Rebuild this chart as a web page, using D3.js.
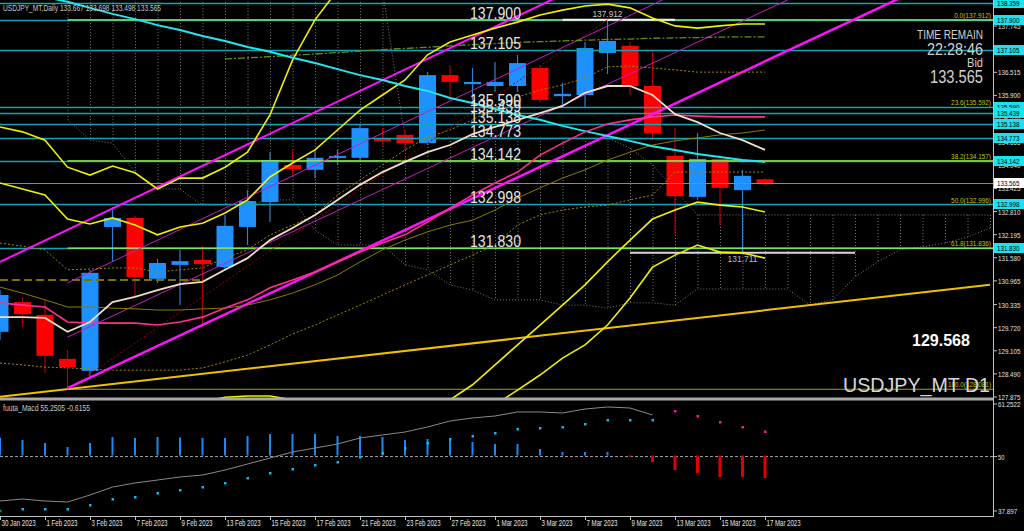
<!DOCTYPE html>
<html><head><meta charset="utf-8">
<script src="https://cdn.jsdelivr.net/npm/d3@7"></script>
<style>html,body{margin:0;padding:0;background:#000;overflow:hidden}</style>
</head><body><svg id="c" width="1024" height="531"></svg>
<script>
// ---------------- DATA ----------------
const dates=["30 Jan 2023","31 Jan 2023","1 Feb 2023","2 Feb 2023","3 Feb 2023","6 Feb 2023","7 Feb 2023","8 Feb 2023","9 Feb 2023","10 Feb 2023","13 Feb 2023","14 Feb 2023","15 Feb 2023","16 Feb 2023","17 Feb 2023","20 Feb 2023","21 Feb 2023","22 Feb 2023","23 Feb 2023","24 Feb 2023","27 Feb 2023","28 Feb 2023","1 Mar 2023","2 Mar 2023","3 Mar 2023","6 Mar 2023","7 Mar 2023","8 Mar 2023","9 Mar 2023","10 Mar 2023","13 Mar 2023","14 Mar 2023","15 Mar 2023","16 Mar 2023","17 Mar 2023"];
const openP=[129.61,130.40,130.06,128.89,128.57,132.40,132.64,131.02,131.39,131.52,131.33,132.40,133.06,134.05,133.92,134.24,134.24,134.77,134.85,134.63,136.44,136.20,136.15,136.15,136.63,135.88,135.91,137.03,137.22,136.15,134.29,133.20,134.21,133.38,133.667];
const highP=[130.72,130.54,130.46,129.13,131.25,132.93,132.69,131.55,131.79,131.89,132.72,133.38,134.39,134.45,134.45,134.45,135.11,135.03,134.98,136.52,136.71,136.63,136.79,136.98,136.71,136.23,137.32,137.912,137.32,137.11,135.03,134.90,134.31,133.92,133.698];
const lowP=[129.39,129.74,128.51,128.081,128.38,131.47,130.54,130.91,130.32,129.79,131.25,131.92,132.53,133.78,133.70,134.05,134.18,134.58,134.45,134.58,135.78,135.78,135.99,135.99,135.72,135.59,135.57,136.47,135.91,134.71,132.19,133.12,132.45,131.711,133.498];
const closeP=[130.59,130.08,128.97,128.67,131.18,132.64,131.07,131.44,131.49,131.41,132.43,133.09,134.18,133.94,134.24,134.29,135.03,134.69,134.63,136.44,136.26,136.26,136.26,136.76,135.78,135.94,137.16,137.35,136.15,134.90,133.22,134.21,133.44,133.76,133.565];

// moving averages / bands (price per bar, from bar 0)
const maCream=[130.00,130.00,129.98,129.61,129.87,130.40,130.54,130.72,130.88,130.94,131.26,131.57,132.05,132.37,132.72,133.12,133.52,133.86,134.13,134.39,134.58,134.87,135.06,135.25,135.43,135.62,135.97,136.15,136.15,135.91,135.40,135.19,134.90,134.71,134.45];
const maPink=[130.38,130.32,130.27,129.87,129.84,129.84,129.84,129.79,129.87,130.00,130.24,130.46,130.78,130.99,131.20,131.47,131.73,131.97,132.19,132.53,132.90,133.25,133.57,133.86,134.31,134.63,134.93,135.14,135.25,135.33,135.38,135.35,135.33,135.33,135.33];
const maCyan=[138.81,138.65,138.52,138.39,138.23,138.07,137.93,137.77,137.64,137.48,137.35,137.19,137.06,136.90,136.76,136.60,136.44,136.31,136.15,136.02,135.83,135.70,135.54,135.38,135.25,135.09,134.95,134.82,134.69,134.55,134.45,134.34,134.26,134.18,134.13];
const bandUpper3=[135.06,134.93,134.71,133.99,133.78,134.02,133.84,133.41,133.70,133.70,133.99,134.39,135.38,136.84,137.91,138.70];
const bandUpper2=[133.57,133.41,133.25,132.61,132.48,132.64,132.45,132.19,132.40,132.50,132.77,133.12,133.73,134.10,134.45,134.98,135.51,135.91,136.31,136.98,137.32,137.51,137.69,137.85,138.04,138.17,138.28,138.33,138.23,137.96,137.75,137.69,137.75,137.80,137.80];
const bandLower2=[127.26,127.26,127.30,127.35,127.40,127.45,127.50,127.55,127.60,127.74,127.87,127.90,127.90,127.80,127.66,127.53,127.47,127.47,127.53,127.66,127.80,128.20,128.73,129.26,129.79,130.32,130.86,131.47,132.05,132.61,132.85,133.06,132.98,132.93,132.80];
const bandLower3=[null,null,null,null,null,null,null,null,null,null,null,null,null,null,null,null,null,null,null,null,127.00,127.26,127.66,128.06,128.46,128.91,129.26,129.79,130.51,131.33,131.65,131.92,131.73,131.71,131.57];
const bandMid=[130.80,130.64,130.46,130.27,130.27,130.24,130.22,130.19,130.19,130.22,130.24,130.32,130.46,130.64,130.86,131.12,131.47,131.79,132.05,132.27,132.45,132.58,132.85,133.17,133.44,133.70,133.92,134.18,134.39,134.58,134.69,134.77,134.85,134.90,134.98];
const dotUpper=[131.97,131.89,131.79,131.26,131.28,131.31,131.31,131.20,131.26,131.31,131.57,131.79,132.19,132.45,132.72,133.25,133.65,134.05,134.45,134.79,134.98,135.25,135.57,135.86,136.04,136.18,136.36,136.66,136.68,136.63,136.58,136.52,136.52,136.52,136.52];
const dotLower=[128.78,128.73,128.67,128.65,128.62,128.59,128.59,128.59,128.59,128.65,128.81,128.99,129.26,129.55,129.79,130.06,130.32,130.59,130.86,131.12,131.39,131.65,131.92,132.45,132.72,132.85,132.93,132.98,133.12,133.25,133.86,133.86,133.86,133.86,133.86];
const dashDotStart=10;
const dashDotLine=[136.87,136.90,136.93,136.97,137.00,137.04,137.08,137.12,137.15,137.18,137.22,137.25,137.28,137.31,137.33,137.35,137.37,137.39,137.40,137.42,137.43,137.44,137.45,137.46,137.46];
const oliveDashLevel=[0,9,130.99];

// dotted cloud (bars 3..44)
const cloudStart=3;
const cloudTop=[138.70,138.70,138.70,138.70,138.70,138.70,138.70,138.70,138.70,138.70,138.70,138.70,138.70,138.70,138.70,134.77,134.77,134.77,134.77,134.77,134.77,134.77,134.77,134.77,134.77,134.50,134.05,133.38,132.72,132.72,132.72,132.72,132.72,132.72,132.72,132.72,132.72,132.72,132.72,132.72,132.72,132.72];
const cloudBottom=[135.25,134.71,134.63,133.86,133.41,133.41,132.98,132.98,132.98,133.12,133.12,132.32,131.92,131.92,131.92,131.39,131.26,130.86,130.72,130.46,130.46,130.46,130.32,130.32,130.24,130.38,130.38,130.32,130.75,130.75,130.75,130.75,130.75,130.32,130.46,131.07,131.47,131.79,131.87,131.97,132.13,132.37];

// horizontal levels
const hLevels=[138.359,137.900,137.105,135.590,135.439,135.138,134.773,134.142,132.998,131.830];
const hLabels=["137.900","137.105","135.590","135.439","135.138","134.773","134.142","132.998","131.830"];
const bid=133.565;
const fibLevels=[137.912,135.592,134.157,132.996,131.836,128.081];
const fibNames=["0.0","23.6","38.2","50.0","61.8","100.0"];
const fibStart=3;
const highMark=[25,30,137.912], lowMark=[28,38,131.711];

// trend lines [i1,p1,i2,p2]
const trendGold=[0,127.88,44,130.86];
const chanThickLow=[3,128.11,40,138.49];
const chanThickUp=[0,131.47,25,138.58];
const chanThinA=[3,130.91,30,138.60];
const chanThinB=[3,129.47,35,138.44];
const fibBase=[3,128.081,27,137.912];

// price axis
const priceTicks=["138.359","137.745","137.130","136.515","135.900","135.270","134.655","134.040","133.425","132.810","132.195","131.580","130.965","130.335","129.720","129.105","128.490","127.875"];

// oscillator
const histVals=[53.89,53.39,52.74,51.87,52.74,54.05,53.83,54.05,53.95,53.83,53.83,54.27,54.70,54.70,54.70,54.27,54.27,54.05,53.39,53.61,53.83,52.96,52.52,52.52,51.43,50.77,50.77,50.77,49.75,48.59,46.84,46.19,45.32,45.32,45.10];
const macdLine=[40.08,40.51,40.08,39.86,41.39,43.13,44.01,44.66,45.32,45.75,46.84,48.15,49.46,50.77,51.65,52.52,53.83,54.49,55.14,56.23,57.54,58.20,58.63,59.51,59.51,59.29,60.16,60.60,60.38,58.85];
const dotVals=[37.95,38.33,38.33,38.33,39.20,40.51,40.95,41.82,42.48,43.13,44.01,45.10,46.19,47.06,47.94,48.59,49.68,50.56,51.65,52.74,53.61,54.27,54.92,55.80,56.01,56.23,56.89,57.76,57.76,57.76,59.72,58.63,57.32,56.23,55.2505];
const oscTicks=["61.2522","50","37.897"];

// ---------------- DRAW ----------------
const NF="'Liberation Sans',Arial,sans-serif";
const svg=d3.select("#c");
svg.append("rect").attr("width",1024).attr("height",531).attr("fill","#000");
const defs=svg.append("defs");
defs.append("clipPath").attr("id","cm").append("rect").attr("x",0).attr("y",0).attr("width",993).attr("height",398);
defs.append("clipPath").attr("id","cd").append("rect").attr("x",0).attr("y",401).attr("width",993).attr("height",115);

const x=d3.scaleLinear().domain([0,44]).range([0,990]);
const y=d3.scaleLinear().domain([127.875,138.359]).range([397,3]);
const ym=d3.scaleLinear().domain([37.897,61.2522]).range([511,404]);

const gm=svg.append("g").attr("clip-path","url(#cm)");

function txt(g,t,xx,yy,size,color,w,anchor){
  const s=g.append("text").attr("x",xx).attr("y",yy).attr("fill",color).attr("font-family",NF).attr("font-size",size).text(t);
  if(anchor)s.attr("text-anchor",anchor);
  if(w)s.attr("textLength",w).attr("lengthAdjust","spacingAndGlyphs");
  return s;
}
function series(g,vals,start,color,w,dash,scale){
  const sc=scale||y;
  const ln=d3.line().defined(d=>d!=null).x((d,i)=>x(i+start)).y(d=>sc(d));
  const p=g.append("path").datum(vals).attr("d",ln).attr("fill","none").attr("stroke",color).attr("stroke-width",w);
  if(dash)p.attr("stroke-dasharray",dash);
  return p;
}
function seg(g,t,color,w,dash){
  const p=g.append("line").attr("x1",x(t[0])).attr("y1",y(t[1])).attr("x2",x(t[2])).attr("y2",y(t[3]))
   .attr("stroke",color).attr("stroke-width",w);
  if(dash)p.attr("stroke-dasharray",dash);
}

// cloud
cloudTop.forEach((t,k)=>{
  gm.append("line").attr("x1",x(k+cloudStart)+0.5).attr("x2",x(k+cloudStart)+0.5)
    .attr("y1",y(t)).attr("y2",y(cloudBottom[k])).attr("stroke","#7c7c7c").attr("stroke-width",1).attr("stroke-dasharray","1,2");
});
series(gm,cloudTop,cloudStart,"#7c7c7c",1,"1,2");
series(gm,cloudBottom,cloudStart,"#7c7c7c",1,"1,2");

// candles
const cg=gm.append("g");
dates.forEach((d,i)=>{
  const up=closeP[i]>=openP[i];
  const cx=x(i);
  cg.append("line").attr("x1",cx).attr("x2",cx).attr("y1",y(highP[i])).attr("y2",y(lowP[i]))
    .attr("stroke",up?"#2f7fd0":"#b00000").attr("stroke-width",1.2);
  const yt=y(Math.max(openP[i],closeP[i])), yb=y(Math.min(openP[i],closeP[i]));
  cg.append("rect").attr("x",cx-8.5).attr("width",17).attr("y",yt).attr("height",Math.max(2,yb-yt))
    .attr("fill",up?"#1e90ff":"#ff0000");
});

// horizontal levels
hLevels.forEach(v=>{
  gm.append("line").attr("x1",0).attr("x2",993).attr("y1",Math.round(y(v))+0.5).attr("y2",Math.round(y(v))+0.5)
    .attr("stroke","#13a3b5").attr("stroke-width",1.3);
});
gm.append("line").attr("x1",0).attr("x2",993).attr("y1",Math.round(y(bid))+0.5).attr("y2",Math.round(y(bid))+0.5)
  .attr("stroke","#8a8a8a").attr("stroke-width",1);
[0,2,4].forEach(k=>{
  gm.append("line").attr("x1",x(fibStart)).attr("x2",993).attr("y1",y(fibLevels[k])).attr("y2",y(fibLevels[k]))
    .attr("stroke","#a6f24a").attr("stroke-width",1.3);
});
gm.append("line").attr("x1",x(fibStart)).attr("x2",993).attr("y1",y(fibLevels[5])).attr("y2",y(fibLevels[5]))
  .attr("stroke","#a8a000").attr("stroke-width",1);
gm.append("line").attr("x1",x(oliveDashLevel[0])).attr("x2",x(oliveDashLevel[1])).attr("y1",y(oliveDashLevel[2])).attr("y2",y(oliveDashLevel[2]))
  .attr("stroke","#7a7000").attr("stroke-width",2).attr("stroke-dasharray","8,4");
gm.append("line").attr("x1",x(highMark[0])).attr("x2",x(highMark[1])).attr("y1",y(highMark[2])).attr("y2",y(highMark[2])).attr("stroke","#f0f0f0").attr("stroke-width",2);
gm.append("line").attr("x1",x(lowMark[0])).attr("x2",x(lowMark[1])).attr("y1",y(lowMark[2])).attr("y2",y(lowMark[2])).attr("stroke","#d8d8d8").attr("stroke-width",2);

// trend lines
seg(gm,trendGold,"#f0c000",2);
seg(gm,fibBase,"#a00000",1,"2,2");
seg(gm,chanThinA,"#c020c0",1);
seg(gm,chanThinB,"#c020c0",1);
seg(gm,chanThickUp,"#ff10ff",2);
seg(gm,chanThickLow,"#ff10ff",2.5);

// indicator lines
series(gm,dashDotLine,dashDotStart,"#5f8f1f",1.3,"7,2,2,2");
series(gm,dotLower,0,"#a08a00",1,"2,2");
series(gm,dotUpper,0,"#a08a00",1,"2,2");
series(gm,bandMid,0,"#8c7a00",1);
series(gm,bandUpper3,0,"#f0f000",1.6);
series(gm,bandUpper2,0,"#f0f000",1.6);
series(gm,bandLower2,0,"#f0f000",1.6);
series(gm,bandLower3,0,"#f0f000",1.6);
series(gm,maCyan,0,"#22e6f0",2);
series(gm,maPink,0,"#ff2f8f",1.6);
series(gm,maCream,0,"#f4dcc4",1.8);

// texts in main area
txt(gm,"USDJPY_MT,Daily  133.667 133.698 133.498 133.565",3,11,8.5,"#c8c8c8",158);
hLabels.forEach((t,k)=>{ txt(gm,t,470,y(hLevels[k+1])-1,17,"#e4e4e4",51); });
fibLevels.forEach((v,k)=>{
  const s=fibNames[k]+"("+v.toFixed(3)+")";
  txt(gm,s,991,y(v)-2,8,"#c4c400",s.length*3.07,"end");
});
txt(gm,"137.912",x(27),y(highMark[2])-3,9,"#c8c8c8",30,"middle");
txt(gm,"131.711",x(33),y(lowMark[2])+9,9,"#b8b8c8",30,"middle");
const info=[["TIME REMAIN",39,13,66],["22:28:46",55,16,56],["Bid",67,13,16],["133.565",83,18,53]];
info.forEach(r=>{ txt(gm,r[0],983,r[1],r[2],"#d0d0d0",r[3],"end"); });
gm.append("text").attr("x",912).attr("y",346).attr("fill","#ffffff").attr("font-family",NF).attr("font-weight","bold").attr("font-size",16).text("129.568");
txt(gm,"USDJPY_MT D1",990,392,20,"#d8d8d8",147,"end");

// ---------------- oscillator ----------------
const gd=svg.append("g").attr("clip-path","url(#cd)");
gd.append("line").attr("x1",0).attr("x2",993).attr("y1",ym(50)+1).attr("y2",ym(50)+1).attr("stroke","#a0a0a0").attr("stroke-dasharray","3,2");
histVals.forEach((v,i)=>{
  const up=v>=50;
  gd.append("rect").attr("x",x(i)-(up?1:1.5)).attr("width",up?2:3)
    .attr("y",Math.min(ym(v),ym(50))).attr("height",Math.abs(ym(v)-ym(50)))
    .attr("fill",up?"#1e88f0":"#e00000");
});
series(gd,macdLine,0,"#8a8a8a",1,null,ym);
dotVals.forEach((v,i)=>{
  gd.append("rect").attr("x",x(i)-1).attr("y",ym(v)-1).attr("width",2.5).attr("height",2.5)
    .attr("fill",i===0?"#00a040":(i>=30?"#f0209a":"#10b8f0"));
});
txt(gd,"fuuta_Macd 55.2505  -0.6155",3,411,8.5,"#c8c8c8",87);

// ---------------- frame & axes ----------------
svg.append("rect").attr("x",0).attr("y",397.5).attr("width",994).attr("height",3).attr("fill","#a8a8a8");
svg.append("line").attr("x1",993.5).attr("x2",993.5).attr("y1",0).attr("y2",517).attr("stroke","#c0c0c0");
svg.append("line").attr("x1",0).attr("x2",994).attr("y1",516.5).attr("y2",516.5).attr("stroke","#c0c0c0");

const ga=svg.append("g");
priceTicks.forEach(t=>{
  const v=+t, yy=y(v);
  ga.append("line").attr("x1",993).attr("x2",997).attr("y1",yy).attr("y2",yy).attr("stroke","#c0c0c0");
  txt(ga,t,998,yy+3,8,"#e0e0e0",t.length*3.2);
});
hLevels.forEach(v=>{
  const yy=Math.round(y(v));
  ga.append("rect").attr("x",994).attr("y",yy-5).attr("width",30).attr("height",10).attr("fill","#1ee0f0");
  txt(ga,v.toFixed(3),997,yy+3,8,"#000",22.4);
});
{
  const yy=Math.round(y(bid));
  ga.append("rect").attr("x",994).attr("y",yy-5).attr("width",30).attr("height",10).attr("fill","#ffffff");
  txt(ga,bid.toFixed(3),997,yy+3,8,"#000",22.4);
}
oscTicks.forEach(t=>{
  const yy=t==="50"?ym(50)+1:ym(+t);
  ga.append("line").attr("x1",993).attr("x2",997).attr("y1",yy).attr("y2",yy).attr("stroke","#c0c0c0");
  txt(ga,t,998,yy+3,8,"#e0e0e0",t.length*3.2);
});
dates.forEach((d,i)=>{
  if(i%2)return;
  const xx=Math.round(x(i))+0.5;
  ga.append("line").attr("x1",xx).attr("x2",xx).attr("y1",516).attr("y2",520).attr("stroke","#c0c0c0");
  txt(ga,d,xx+1,526,8.5,"#e0e0e0",d.length*3.1);
});
</script></body></html>
